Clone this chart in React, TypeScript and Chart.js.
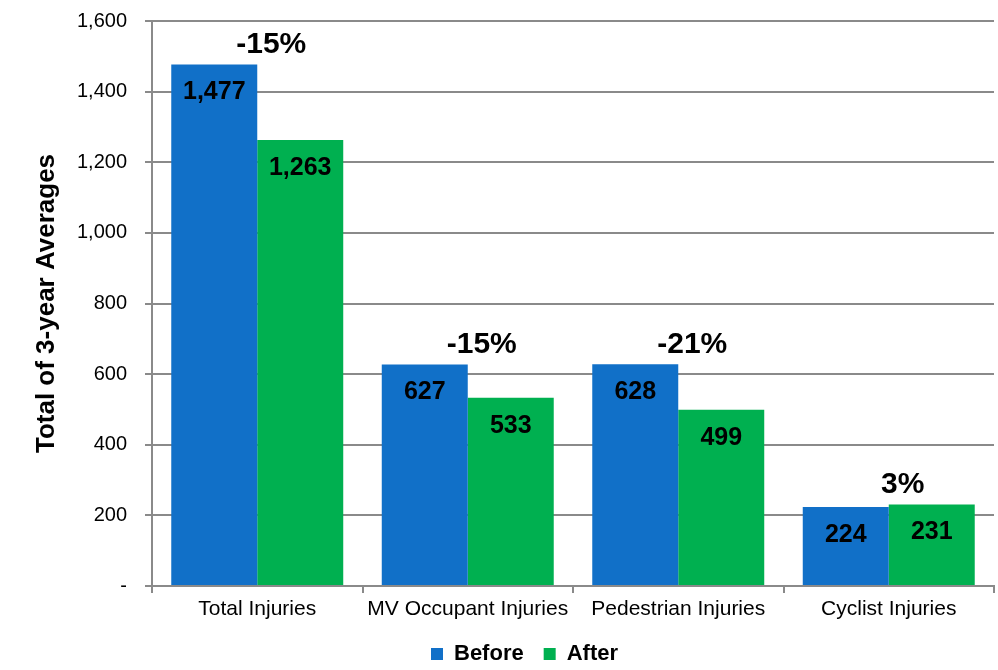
import React, { useEffect, useRef } from "react";
import { Chart, registerables } from "chart.js";

Chart.register(...registerables);

const categories = ["Total Injuries", "MV Occupant Injuries", "Pedestrian Injuries", "Cyclist Injuries"];
const beforeValues = [1477, 627, 628, 224];
const afterValues = [1263, 533, 499, 231];
const changeLabels = ["-15%", "-15%", "-21%", "3%"];
const yTicks = [0, 200, 400, 600, 800, 1000, 1200, 1400, 1600];

const BLUE = "#1170C8";
const GREEN = "#00B050";
const GRAY = "#8a8a8a";
const FONT = "'Liberation Sans', Arial, sans-serif";

const fmt = (v: number) => (v === 0 ? "-" : v.toLocaleString("en-US"));

const labelPlugin = {
  id: "barLabels",
  afterDatasetsDraw(chart: any) {
    const ctx = chart.ctx;
    ctx.save();
    ctx.fillStyle = "#000";
    ctx.textAlign = "center";
    ctx.textBaseline = "middle";
    ctx.font = `bold 25px ${FONT}`;
    chart.data.datasets.forEach((ds: any, di: number) => {
      const meta = chart.getDatasetMeta(di);
      meta.data.forEach((bar: any, i: number) => {
        ctx.fillText(fmt(ds.data[i]), bar.x, bar.y + 28);
      });
    });
    const yScale = chart.scales.y;
    const xScale = chart.scales.x;
    ctx.font = `bold 30px ${FONT}`;
    changeLabels.forEach((t, i) => {
      const maxV = Math.max(beforeValues[i], afterValues[i]);
      const y = yScale.getPixelForValue(maxV) - 20;
      const x = xScale.getPixelForValue(i) + 14;
      ctx.fillText(t, x, y);
    });
    ctx.restore();
  },
};

export default function App() {
  const ref = useRef<HTMLCanvasElement | null>(null);
  useEffect(() => {
    if (!ref.current) return;
    const chart = new Chart(ref.current, {
      type: "bar",
      data: {
        labels: categories,
        datasets: [
          { label: "Before", data: beforeValues, backgroundColor: BLUE, categoryPercentage: 0.817, barPercentage: 1 },
          { label: "After", data: afterValues, backgroundColor: GREEN, categoryPercentage: 0.817, barPercentage: 1 },
        ],
      },
      options: {
        responsive: false,
        animation: false,
        devicePixelRatio: 1,
        layout: { padding: { left: 55, right: 4, top: 21, bottom: -5 } },
        plugins: {
          tooltip: { enabled: false },
          legend: {
            position: "bottom",
            labels: {
              boxWidth: 12,
              boxHeight: 12,
              padding: 20,
              color: "#000",
              font: { family: FONT, size: 22, weight: "bold" },
            },
          },
        },
        scales: {
          x: {
            offset: true,
            grid: { display: true, offset: true, drawOnChartArea: false, color: GRAY, tickLength: 7, lineWidth: 2 },
            border: { color: GRAY, width: 2 },
            ticks: { color: "#000", font: { family: FONT, size: 21 }, padding: 4, maxRotation: 0 },
            afterFit: (s: any) => {
              s.height = 37;
              s.paddingLeft = 0;
              s.paddingRight = 0;
            },
          },
          y: {
            min: 0,
            max: 1600,
            afterBuildTicks: (s: any) => {
              s.ticks = yTicks.map((v) => ({ value: v }));
            },
            grid: { color: GRAY, lineWidth: 2, tickLength: 7 },
            border: { color: GRAY, width: 2 },
            ticks: {
              color: "#000",
              font: { family: FONT, size: 20 },
              padding: 18,
              callback: (v: any) => fmt(Number(v)),
            },
            title: {
              display: true,
              text: "Total of 3-year Averages",
              color: "#000",
              font: { family: FONT, size: 26, weight: "bold" },
              padding: { top: -24, bottom: 0 },
            },
            afterFit: (s: any) => {
              s.width = 97;
              s.paddingTop = 0;
              s.paddingBottom = 0;
            },
          },
        },
      },
      plugins: [labelPlugin],
    } as any);
    return () => chart.destroy();
  }, []);
  return (
    <div style={{ position: "absolute", left: 0, top: 0, width: 998, height: 670, background: "#fff" }}>
      <canvas ref={ref} width={998} height={670} />
    </div>
  );
}
